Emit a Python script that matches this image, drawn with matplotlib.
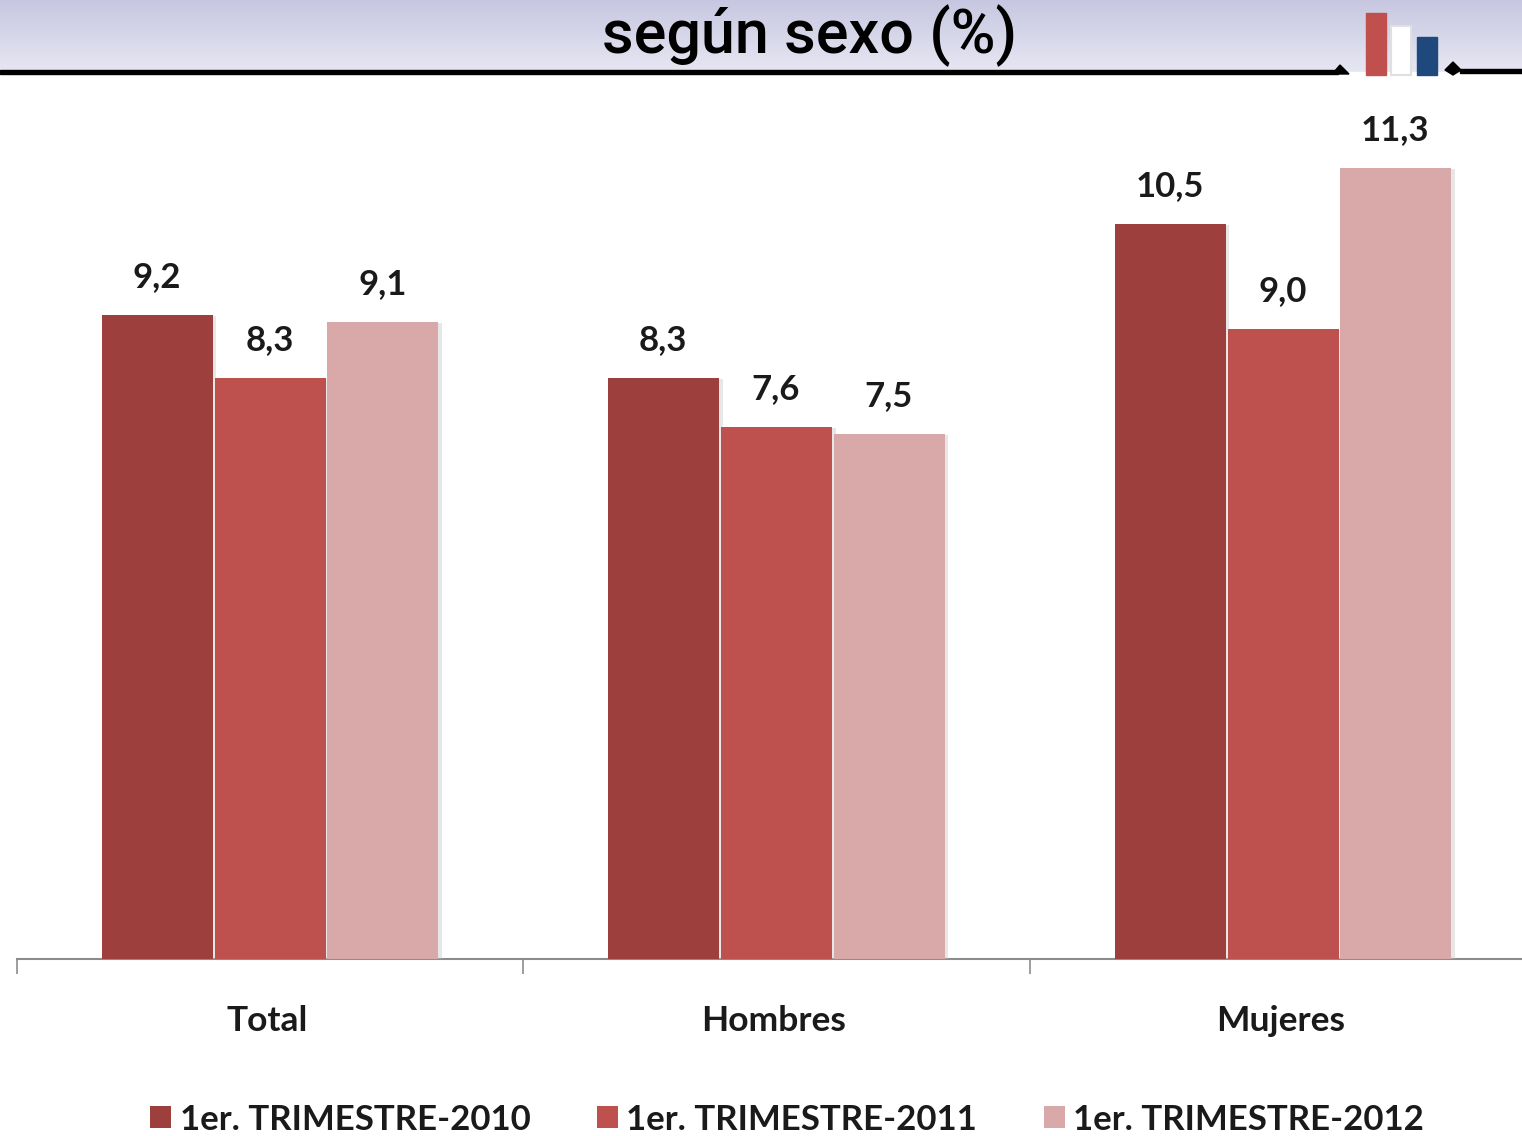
import numpy as np
import matplotlib
matplotlib.use("Agg")
import matplotlib.pyplot as plt
import matplotlib.patheffects as pe
from matplotlib.patches import Rectangle, Polygon
from matplotlib.transforms import ScaledTranslation

categories = ["Total", "Hombres", "Mujeres"]
series_names = ["1er. TRIMESTRE-2010", "1er. TRIMESTRE-2011", "1er. TRIMESTRE-2012"]
values_2010 = [9.2, 8.3, 10.5]
values_2011 = [8.3, 7.6, 9.0]
values_2012 = [9.1, 7.5, 11.3]
colors = ["#9C3F3D", "#BE504E", "#D9A8A8"]
title = "según sexo (%)"

W, H = 1522, 1136
fig = plt.figure(figsize=(W / 100, H / 100), dpi=100, facecolor="white")

# header band
bg = fig.add_axes([0, 0, 1, 1], zorder=0)
bg.set_xlim(0, W); bg.set_ylim(H, 0); bg.axis("off")
top_c = np.array([[[0.78, 0.78, 0.882]]])
bot_c = np.array([[[0.905, 0.905, 0.953]]])
grad = np.linspace(0, 1, 72)[:, None, None] * (bot_c - top_c) + top_c
bg.imshow(grad, extent=[0, W, 72, 0], aspect="auto", zorder=1)
bg.set_xlim(0, W); bg.set_ylim(H, 0)
bg.add_patch(Rectangle((0, 70), 1338, 4, color="black", zorder=2))
bg.add_patch(Rectangle((1460, 69), 62, 4, color="black", zorder=2))
bg.add_patch(Rectangle((1350, 72), 100, 4, color="white", zorder=2))
bg.add_patch(Polygon([[1334, 72], [1340, 65], [1349, 74], [1334, 74]], color="black", zorder=3))
bg.add_patch(Polygon([[1445, 70], [1453, 62], [1461, 70], [1453, 75]], color="black", zorder=3))
bg.add_patch(Rectangle((1366, 13), 20, 62, color="#C0504D", zorder=4))
bg.add_patch(Rectangle((1391, 26), 20, 49, facecolor="white", edgecolor="#E0E0E0", lw=1.5, zorder=4))
bg.add_patch(Rectangle((1417, 37), 20, 38, color="#1F497D", zorder=4))
bg.text(810, 36, title, ha="center", va="center", fontsize=44, color="black",
        family="Roboto", fontweight="medium", zorder=5)

# chart
ax = fig.add_axes([17 / W, (H - 959) / H, (W - 17) / W, (959 - 100) / H], zorder=1)
ax.patch.set_alpha(0)
x = np.arange(len(categories))
bw = 0.2225
shadow = [pe.SimplePatchShadow(offset=(2.5, -1), shadow_rgbFace="#C4C4C4", alpha=0.4), pe.Normal()]
handles = []
for i, (vals, c) in enumerate(zip([values_2010, values_2011, values_2012], colors)):
    bars = ax.bar(x + (i - 1) * bw, vals, bw * 0.985, color=c, label=series_names[i],
                  path_effects=shadow, zorder=3)
    handles.append(bars)
    for b, v in zip(bars, vals):
        ax.annotate(f"{v:.1f}".replace(".", ","), (b.get_x() + b.get_width() / 2, v),
                    xytext=(-0.5, 27.5), textcoords="offset points", ha="center", va="center",
                    fontsize=25, family="Lato", fontweight="bold", color="#1A1A1A")

ax.set_xlim(-0.5, (W - 270) / 506.5)
ax.set_ylim(0, 859 / 70)
for s in ["top", "left", "right"]:
    ax.spines[s].set_visible(False)
ax.spines["bottom"].set_color("#8C8C8C")
ax.spines["bottom"].set_linewidth(1.5)
ax.yaxis.set_visible(False)
ax.set_xticks(x)
ax.set_xticklabels(categories, fontsize=25.5, family="Lato", fontweight="bold", color="#1A1A1A")
ax.tick_params(axis="x", which="major", length=0, pad=33)
shift = ScaledTranslation(-2 / 72, 0, fig.dpi_scale_trans)
for lab in ax.get_xticklabels():
    lab.set_transform(lab.get_transform() + shift)
ax.set_xticks(np.arange(len(categories)) - 0.5, minor=True)
ax.tick_params(axis="x", which="minor", length=11, width=1.2, color="#8C8C8C")

leg = ax.legend(handles=handles, loc="lower left", bbox_to_anchor=(133 / (W - 17), -0.2055), ncol=3,
                frameon=False, prop={"family": "Lato", "size": 25, "weight": "bold"},
                handlelength=0.6, handleheight=0.6, handletextpad=0.25, columnspacing=1.92,
                borderpad=0, borderaxespad=0)
for h in leg.legend_handles:
    h.set_path_effects([])
for t in leg.get_texts():
    t.set_color("#1A1A1A")

fig.savefig("out.png", dpi=100)
